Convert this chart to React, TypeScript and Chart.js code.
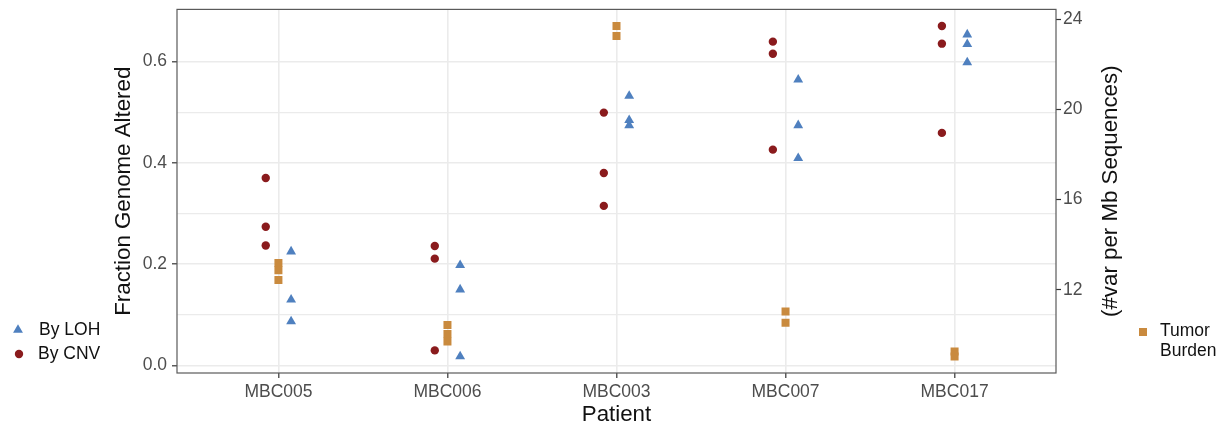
import React, { useEffect, useRef } from 'react';
import { Chart, registerables } from 'chart.js';

Chart.register(...registerables);

// ---- data ----
const patients = ['MBC005', 'MBC006', 'MBC003', 'MBC007', 'MBC017'];

// Fraction genome altered, by LOH (triangles)
const lohFraction = [
  [0.225, 0.130, 0.087],
  [0.198, 0.150, 0.018],
  [0.532, 0.484, 0.474],
  [0.564, 0.474, 0.409],
  [0.653, 0.634, 0.598],
];

// Fraction genome altered, by CNV (circles)
const cnvFraction = [
  [0.370, 0.274, 0.237],
  [0.236, 0.211, 0.030],
  [0.499, 0.380, 0.315],
  [0.639, 0.615, 0.426],
  [0.670, 0.635, 0.459],
];

// Tumor burden (#var per Mb sequences), right axis (squares)
const tumorBurden = [
  [13.19, 12.87, 12.43],
  [10.44, 10.04, 9.71],
  [23.69, 23.25],
  [11.04, 10.54],
  [9.26, 9.04],
];

const leftTicks = [0, 0.1, 0.2, 0.3, 0.4, 0.5, 0.6];
const rightTicks = [12, 16, 20, 24];

// ---- styles ----
const FONT = "'Liberation Sans', Arial, Helvetica, sans-serif";
const COLOR_LOH = '#4f80bf';
const COLOR_CNV = '#8a1b1d';
const COLOR_TUMOR = '#c98a3e';
const GRID = '#ebebeb';
const TICK_TEXT = '#4d4d4d';
const DODGE = 0.075;

function toPoints(groups: number[][], offset: number) {
  return groups.flatMap((vals, i) => vals.map((v) => ({ x: i + 1 + offset, y: v })));
}

const decorPlugin = {
  id: 'decor',
  afterDatasetsDraw(chart: any) {
    const { ctx, chartArea: a } = chart;
    ctx.save();
    // panel border
    ctx.strokeStyle = '#5a5a5a';
    ctx.lineWidth = 1.2;
    ctx.strokeRect(a.left, a.top, a.right - a.left, a.bottom - a.top);

    // axis titles
    ctx.fillStyle = '#111';
    ctx.font = `22.3px ${FONT}`;
    ctx.textAlign = 'center';
    ctx.textBaseline = 'middle';
    const midY = (a.top + a.bottom) / 2;
    ctx.fillText('Patient', (a.left + a.right) / 2, 415);

    ctx.save();
    ctx.translate(124, midY);
    ctx.rotate(-Math.PI / 2);
    ctx.fillText('Fraction Genome Altered', 0, 0);
    ctx.restore();

    ctx.save();
    ctx.translate(1111, midY);
    ctx.rotate(-Math.PI / 2);
    ctx.fillText('(#var per Mb Sequences)', 0, 0);
    ctx.restore();

    // left legend
    ctx.font = `17.5px ${FONT}`;
    ctx.textAlign = 'left';
    ctx.fillStyle = COLOR_LOH;
    const tr = 5.7;
    const tx = 18, ty = 330;
    ctx.beginPath();
    ctx.moveTo(tx, ty - tr);
    ctx.lineTo(tx + tr * Math.sin((2 * Math.PI) / 3), ty - tr * Math.cos((2 * Math.PI) / 3));
    ctx.lineTo(tx + tr * Math.sin((4 * Math.PI) / 3), ty - tr * Math.cos((4 * Math.PI) / 3));
    ctx.closePath();
    ctx.fill();
    ctx.fillStyle = COLOR_CNV;
    ctx.beginPath();
    ctx.arc(19, 354, 4.2, 0, Math.PI * 2);
    ctx.fill();
    ctx.fillStyle = '#111';
    ctx.fillText('By LOH', 39, 330);
    ctx.fillText('By CNV', 38, 354);

    // right legend
    ctx.fillStyle = COLOR_TUMOR;
    ctx.fillRect(1139, 328, 8, 8);
    ctx.fillStyle = '#111';
    ctx.fillText('Tumor', 1160, 331);
    ctx.fillText('Burden', 1160, 351);
    ctx.restore();
  },
};

export default function App() {
  const ref = useRef<HTMLCanvasElement | null>(null);

  useEffect(() => {
    if (!ref.current) return;
    const tickFont = { family: FONT, size: 17.5 };
    const chart = new Chart(ref.current, {
      type: 'scatter',
      data: {
        datasets: [
          {
            label: 'Tumor Burden',
            data: toPoints(tumorBurden, 0),
            yAxisID: 'y2',
            pointStyle: 'rect',
            pointRadius: 5.66,
            backgroundColor: COLOR_TUMOR,
            borderWidth: 0,
          },
          {
            label: 'By CNV',
            data: toPoints(cnvFraction, -DODGE),
            yAxisID: 'y',
            pointStyle: 'circle',
            pointRadius: 4.2,
            backgroundColor: COLOR_CNV,
            borderWidth: 0,
          },
          {
            label: 'By LOH',
            data: toPoints(lohFraction, DODGE),
            yAxisID: 'y',
            pointStyle: 'triangle',
            pointRadius: 5.7,
            backgroundColor: COLOR_LOH,
            borderWidth: 0,
          },
        ],
      },
      options: {
        animation: false,
        responsive: false,
        maintainAspectRatio: false,
        layout: { padding: { top: 9.4, left: 0, right: 0, bottom: 0 } },
        plugins: { legend: { display: false }, tooltip: { enabled: false } },
        scales: {
          x: {
            type: 'linear',
            position: 'bottom',
            min: 0.4,
            max: 5.6,
            afterBuildTicks: (s: any) => {
              s.ticks = patients.map((_, i) => ({ value: i + 1 }));
            },
            afterFit: (s: any) => {
              s.height = 56;
              s.paddingLeft = 0;
              s.paddingRight = 0;
            },
            ticks: {
              callback: (v: any) => patients[Math.round(Number(v)) - 1] ?? '',
              font: tickFont,
              color: TICK_TEXT,
              padding: 4,
              maxRotation: 0,
              autoSkip: false,
            },
            grid: {
              color: GRID,
              lineWidth: 1.6,
              tickColor: '#333',
              tickLength: 5,
              tickWidth: 1.2,
            },
            border: { display: false },
          },
          y: {
            type: 'linear',
            position: 'left',
            min: -0.0146,
            max: 0.7026,
            afterBuildTicks: (s: any) => {
              s.ticks = leftTicks.map((v) => ({ value: v }));
            },
            afterFit: (s: any) => {
              s.width = 177;
              s.paddingTop = 0;
              s.paddingBottom = 0;
            },
            ticks: {
              callback: (v: any) => (Math.round(Number(v) * 10) % 2 === 0 ? Number(v).toFixed(1) : ''),
              font: tickFont,
              color: TICK_TEXT,
              padding: 5,
              autoSkip: false,
            },
            grid: {
              color: GRID,
              lineWidth: (c: any) => (Math.round(c.tick.value * 10) % 2 === 0 ? 1.6 : 1.2),
              tickColor: (c: any) => (Math.round(c.tick.value * 10) % 2 === 0 ? '#333' : 'rgba(0,0,0,0)'),
              tickLength: 5,
              tickWidth: 1.2,
            },
            border: { display: false },
          },
          y2: {
            type: 'linear',
            position: 'right',
            min: 8.31,
            max: 24.43,
            afterBuildTicks: (s: any) => {
              s.ticks = rightTicks.map((v) => ({ value: v }));
            },
            afterFit: (s: any) => {
              s.width = 170;
              s.paddingTop = 0;
              s.paddingBottom = 0;
            },
            ticks: {
              callback: (v: any) => String(v),
              font: tickFont,
              color: TICK_TEXT,
              padding: 2,
              autoSkip: false,
            },
            grid: {
              drawOnChartArea: false,
              tickColor: '#333',
              tickLength: 5,
              tickWidth: 1.2,
            },
            border: { display: false },
          },
        },
      },
      plugins: [decorPlugin],
    } as any);
    return () => chart.destroy();
  }, []);

  return (
    <div style={{ position: 'fixed', left: 0, top: 0, width: 1226, height: 429, background: '#fff' }}>
      <canvas ref={ref} width={1226} height={429} style={{ display: 'block' }} />
    </div>
  );
}
